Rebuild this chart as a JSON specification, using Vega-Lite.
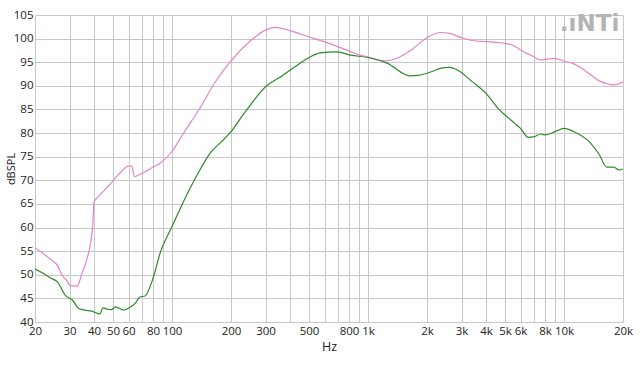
{
  "$schema": "https://vega.github.io/schema/vega-lite/v6.json",
  "width": 588,
  "height": 307,
  "autosize": "none",
  "padding": {"left": 35, "top": 15, "right": 21, "bottom": 43},
  "background": "white",
  "config": {
    "view": {"stroke": null},
    "font": "Open Sans",
    "axis": {"labelFont": "Open Sans", "titleFont": "Open Sans", "labelColor": "#222222", "titleColor": "#222222", "titleFontWeight": "normal", "labelOverlap": false}
  },
  "datasets": {
    "curves": [
      {"f": 20, "db": 55.7, "s": "A"},
      {"f": 22, "db": 54.5, "s": "A"},
      {"f": 24, "db": 53.3, "s": "A"},
      {"f": 26, "db": 52.0, "s": "A"},
      {"f": 27.4, "db": 50.0, "s": "A"},
      {"f": 29, "db": 48.8, "s": "A"},
      {"f": 30.3, "db": 47.7, "s": "A"},
      {"f": 32.8, "db": 47.6, "s": "A"},
      {"f": 34.8, "db": 50.4, "s": "A"},
      {"f": 36, "db": 52.0, "s": "A"},
      {"f": 37.3, "db": 54.2, "s": "A"},
      {"f": 38.5, "db": 57.0, "s": "A"},
      {"f": 39.5, "db": 61.0, "s": "A"},
      {"f": 40, "db": 65.4, "s": "A"},
      {"f": 42, "db": 66.5, "s": "A"},
      {"f": 45, "db": 67.8, "s": "A"},
      {"f": 50, "db": 69.9, "s": "A"},
      {"f": 55, "db": 71.8, "s": "A"},
      {"f": 59.7, "db": 73.0, "s": "A"},
      {"f": 62.4, "db": 73.0, "s": "A"},
      {"f": 64.4, "db": 70.7, "s": "A"},
      {"f": 68, "db": 71.2, "s": "A"},
      {"f": 72.8, "db": 71.8, "s": "A"},
      {"f": 80, "db": 72.8, "s": "A"},
      {"f": 87, "db": 73.6, "s": "A"},
      {"f": 100, "db": 76.1, "s": "A"},
      {"f": 113, "db": 79.6, "s": "A"},
      {"f": 139, "db": 85.3, "s": "A"},
      {"f": 165, "db": 90.6, "s": "A"},
      {"f": 200, "db": 95.3, "s": "A"},
      {"f": 249, "db": 99.4, "s": "A"},
      {"f": 300, "db": 101.8, "s": "A"},
      {"f": 336, "db": 102.4, "s": "A"},
      {"f": 400, "db": 101.7, "s": "A"},
      {"f": 506, "db": 100.3, "s": "A"},
      {"f": 600, "db": 99.3, "s": "A"},
      {"f": 700, "db": 98.3, "s": "A"},
      {"f": 800, "db": 97.4, "s": "A"},
      {"f": 910, "db": 96.5, "s": "A"},
      {"f": 1000, "db": 96.1, "s": "A"},
      {"f": 1220, "db": 95.3, "s": "A"},
      {"f": 1400, "db": 95.8, "s": "A"},
      {"f": 1650, "db": 97.5, "s": "A"},
      {"f": 2000, "db": 100.2, "s": "A"},
      {"f": 2335, "db": 101.3, "s": "A"},
      {"f": 2600, "db": 101.1, "s": "A"},
      {"f": 3000, "db": 100.2, "s": "A"},
      {"f": 3400, "db": 99.6, "s": "A"},
      {"f": 4000, "db": 99.35, "s": "A"},
      {"f": 5000, "db": 99.0, "s": "A"},
      {"f": 5600, "db": 98.4, "s": "A"},
      {"f": 6000, "db": 97.6, "s": "A"},
      {"f": 7000, "db": 96.2, "s": "A"},
      {"f": 7600, "db": 95.5, "s": "A"},
      {"f": 8000, "db": 95.6, "s": "A"},
      {"f": 9000, "db": 95.8, "s": "A"},
      {"f": 10000, "db": 95.2, "s": "A"},
      {"f": 11000, "db": 94.8, "s": "A"},
      {"f": 12000, "db": 94.0, "s": "A"},
      {"f": 13500, "db": 92.5, "s": "A"},
      {"f": 15200, "db": 91.0, "s": "A"},
      {"f": 16500, "db": 90.5, "s": "A"},
      {"f": 18000, "db": 90.2, "s": "A"},
      {"f": 20000, "db": 90.8, "s": "A"},
      {"f": 20, "db": 51.2, "s": "B"},
      {"f": 22, "db": 50.3, "s": "B"},
      {"f": 24, "db": 49.3, "s": "B"},
      {"f": 26, "db": 48.5, "s": "B"},
      {"f": 28.5, "db": 45.7, "s": "B"},
      {"f": 31.1, "db": 44.6, "s": "B"},
      {"f": 33.6, "db": 42.8, "s": "B"},
      {"f": 36, "db": 42.5, "s": "B"},
      {"f": 39, "db": 42.3, "s": "B"},
      {"f": 42.9, "db": 41.7, "s": "B"},
      {"f": 44.4, "db": 43.0, "s": "B"},
      {"f": 47, "db": 42.7, "s": "B"},
      {"f": 49, "db": 42.6, "s": "B"},
      {"f": 51.6, "db": 43.2, "s": "B"},
      {"f": 56.7, "db": 42.5, "s": "B"},
      {"f": 61, "db": 43.1, "s": "B"},
      {"f": 65, "db": 44.0, "s": "B"},
      {"f": 68.6, "db": 45.3, "s": "B"},
      {"f": 72.8, "db": 45.5, "s": "B"},
      {"f": 79.5, "db": 48.9, "s": "B"},
      {"f": 87.3, "db": 54.8, "s": "B"},
      {"f": 100, "db": 60.2, "s": "B"},
      {"f": 116, "db": 66.0, "s": "B"},
      {"f": 133, "db": 70.8, "s": "B"},
      {"f": 159, "db": 76.1, "s": "B"},
      {"f": 179, "db": 78.2, "s": "B"},
      {"f": 200, "db": 80.3, "s": "B"},
      {"f": 227, "db": 83.5, "s": "B"},
      {"f": 281, "db": 88.5, "s": "B"},
      {"f": 300, "db": 89.8, "s": "B"},
      {"f": 355, "db": 91.8, "s": "B"},
      {"f": 450, "db": 94.8, "s": "B"},
      {"f": 500, "db": 96.0, "s": "B"},
      {"f": 570, "db": 97.0, "s": "B"},
      {"f": 694, "db": 97.2, "s": "B"},
      {"f": 815, "db": 96.5, "s": "B"},
      {"f": 1000, "db": 96.0, "s": "B"},
      {"f": 1250, "db": 94.8, "s": "B"},
      {"f": 1640, "db": 92.1, "s": "B"},
      {"f": 1800, "db": 92.2, "s": "B"},
      {"f": 2170, "db": 93.2, "s": "B"},
      {"f": 2335, "db": 93.7, "s": "B"},
      {"f": 2600, "db": 93.9, "s": "B"},
      {"f": 2900, "db": 93.2, "s": "B"},
      {"f": 3400, "db": 90.9, "s": "B"},
      {"f": 4000, "db": 88.4, "s": "B"},
      {"f": 4600, "db": 85.3, "s": "B"},
      {"f": 5100, "db": 83.5, "s": "B"},
      {"f": 5600, "db": 82.1, "s": "B"},
      {"f": 6000, "db": 81.0, "s": "B"},
      {"f": 6570, "db": 79.1, "s": "B"},
      {"f": 7000, "db": 79.2, "s": "B"},
      {"f": 7600, "db": 79.8, "s": "B"},
      {"f": 8000, "db": 79.6, "s": "B"},
      {"f": 9000, "db": 80.3, "s": "B"},
      {"f": 10000, "db": 81.0, "s": "B"},
      {"f": 11600, "db": 80.0, "s": "B"},
      {"f": 13200, "db": 78.5, "s": "B"},
      {"f": 15200, "db": 75.3, "s": "B"},
      {"f": 16500, "db": 72.8, "s": "B"},
      {"f": 18000, "db": 72.8, "s": "B"},
      {"f": 19000, "db": 72.2, "s": "B"},
      {"f": 20000, "db": 72.4, "s": "B"}
    ],
    "logo": [{"f": 13500, "db": 103.0, "t": ".ıNTi"}]
  },
  "encoding": {
    "x": {
      "field": "f", "type": "quantitative",
      "scale": {"type": "log", "domain": [20, 20000], "nice": false},
      "axis": {
        "title": "Hz",
        "titleFontSize": 12.5,
        "titlePadding": 4,
        "values": [20,30,40,50,60,70,80,90,100,200,300,400,500,600,700,800,900,1000,2000,3000,4000,5000,6000,7000,8000,9000,10000,20000],
        "labelExpr": "indexof([70,90,400,600,700,900,7000,9000], datum.value) >= 0 ? '' : (datum.value >= 1000 ? (datum.value/1000) + 'k' : '' + datum.value)",
        "labelOverlap": false,
        "labelFlush": false,
        "labelFontSize": 11.5,
        "labelPadding": 3,
        "ticks": false,
        "domain": false,
        "grid": true,
        "gridColor": "#c8c8c8",
        "gridWidth": 1
      }
    },
    "y": {
      "field": "db", "type": "quantitative",
      "scale": {"domain": [40, 105], "nice": false, "zero": false},
      "axis": {
        "title": "dBSPL",
        "titleFontSize": 11,
        "titlePadding": -3,
        "values": [40,45,50,55,60,65,70,75,80,85,90,95,100,105],
        "labelExpr": "'' + datum.value",
        "labelOverlap": false,
        "labelFlush": false,
        "labelFontSize": 11.5,
        "labelPadding": 2,
        "ticks": false,
        "domain": false,
        "grid": true,
        "gridColor": "#c8c8c8",
        "gridWidth": 1
      }
    }
  },
  "layer": [
    {
      "data": {"name": "curves"},
      "mark": {"type": "line", "interpolate": "monotone", "strokeWidth": 1.2, "clip": true},
      "encoding": {
        "color": {
          "field": "s", "type": "nominal",
          "scale": {"domain": ["A", "B"], "range": ["#e584c6", "#2b8a2b"]},
          "legend": null
        }
      }
    },
    {
      "data": {"name": "logo"},
      "mark": {"type": "text", "font": "DejaVu Sans", "fontWeight": "bold", "fontSize": 23, "color": "#b4b4b4", "align": "center", "baseline": "middle"},
      "encoding": {
        "text": {"field": "t"}
      }
    }
  ]
}
